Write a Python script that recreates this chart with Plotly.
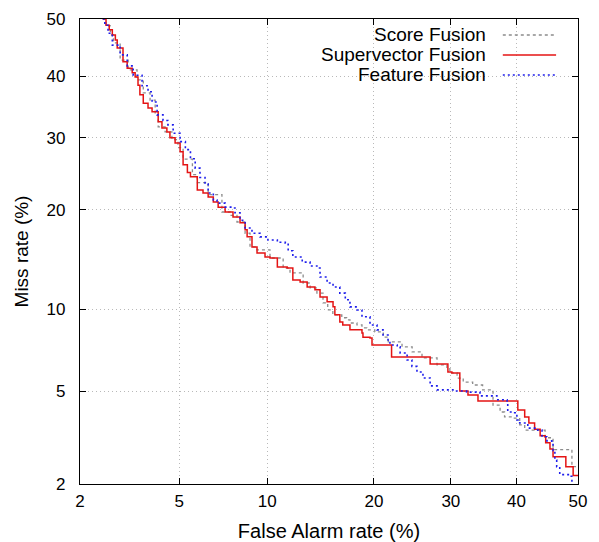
import plotly.graph_objects as go
from statistics import NormalDist

_nd = NormalDist()


def probit(pct):
    return _nd.inv_cdf(pct / 100.0)


# ---------------- data (percent) ----------------
tick_vals = [2, 5, 10, 20, 30, 40, 50]
tick_text = ["2", "5", "10", "20", "30", "40", "50"]

score_fa = [2.5, 2.58, 2.69, 2.77, 2.95, 3.18, 3.45, 3.65, 3.88, 4.06, 4.17, 4.43, 4.7, 4.95,
            5.17, 5.59, 5.82, 6.36, 7.1, 7.57, 7.98, 8.49, 8.81, 9.28, 10.2, 11.2,
            11.75, 12.85, 13.47, 14.08, 14.65, 15.1, 15.6, 16.5, 17.0, 17.35, 18.1,
            18.65, 19.2, 20.1, 21.1, 21.7, 23.4, 24.7, 26.0, 28.05, 29.44, 29.86,
            30.9, 31.8, 33.2, 34.7, 36.3, 37.4, 38.1, 39.4, 40.5, 41.3, 43.8, 44.6,
            45.7, 45.9, 48.7, 49.0, 50.0]
score_miss = [50, 48.8, 47.2, 45.8, 42.8, 41.1, 39.4, 37.2, 36.0, 33.6, 31.7, 30.9, 29.7, 28.5,
              26.8, 24.6, 23.5, 21.9, 19.7, 19.3, 18.5, 17.2, 15.7, 15.4, 14.56, 13.57,
              13.1, 12.18, 11.75, 11.3, 10.5, 9.94, 9.57, 9.35, 9.2, 8.97, 8.83,
              8.63, 8.49, 8.35, 8.0, 7.69, 7.38, 7.07, 6.72, 6.33, 6.2, 5.9,
              5.64, 5.44, 5.3, 5.07, 4.41, 4.13, 3.94, 3.9, 3.65, 3.47, 3.47, 3.22,
              3.22, 2.86, 2.86, 2.4, 2.4]

super_fa = [2.5, 2.58, 2.66, 2.74, 2.82, 2.87, 3.03, 3.15, 3.30, 3.39, 3.48, 3.54, 3.65, 3.81, 3.95,
            4.17, 4.31, 4.5, 4.62, 4.83, 5.04, 5.17, 5.36, 5.5, 5.82, 6.1, 6.36,
            6.63, 6.89, 7.28, 7.74, 8.17, 8.49, 8.62, 8.94, 9.28, 9.84, 10.2, 10.75,
            11.52, 11.98, 12.59, 13.2, 13.9, 14.37, 15.04, 15.62, 15.8, 16.3, 16.6,
            17.35, 18.65, 18.76, 19.55, 19.78, 21.9, 22.1, 27.1, 27.1, 29.44, 29.58,
            30.15, 31.3, 31.3, 32.5, 32.5, 34.0, 34.0, 40.05, 40.2, 41.3, 41.3, 41.97,
            41.97, 42.8, 42.9, 43.8, 43.8, 44.6, 44.7, 45.2, 45.4, 45.9, 45.9, 47.85,
            48.0, 49.2, 49.2, 50.0]
super_miss = [50, 48.9, 48.1, 47.2, 46.3, 44.9, 42.5, 41.4, 40.6, 39.9, 38.5, 36.9, 35.5, 34.7, 34.1,
              32.5, 31.5, 30.9, 30.0, 29.2, 27.9, 26.0, 24.9, 24.3, 22.5, 22.1, 21.6,
              20.95, 20.3, 19.7, 19.1, 18.4, 17.6, 16.8, 15.7, 15.06, 14.66, 14.56, 13.67,
              13.57, 12.45, 12.27, 11.83, 11.58, 10.98, 10.58, 10.18, 9.57, 9.04, 8.83,
              8.49, 8.28, 8.0, 7.94, 7.5, 7.5, 6.78, 6.78, 6.38, 6.38, 5.95,
              5.9, 5.9, 5.02, 5.02, 4.84, 4.84, 4.58, 4.58, 4.21, 4.17, 3.94, 3.94,
              3.72, 3.72, 3.5, 3.47, 3.28, 3.25, 3.06, 3.06, 2.88, 2.83, 2.66, 2.66,
              2.4, 2.4, 2.19, 2.19]

feat_fa = [2.5, 2.55, 2.63, 2.74, 2.95, 3.15, 3.33, 3.61, 3.81, 3.95, 4.13, 4.35, 4.54,
           4.75, 5.04, 5.27, 5.5, 5.72, 5.95, 6.2, 6.36, 6.63, 6.83, 7.28, 7.74,
           7.86, 8.17, 8.49, 8.94, 9.49, 10.05, 10.75, 11.37, 11.6, 11.98, 12.77,
           13.46, 14.08, 14.37, 15.04, 15.62, 16.3, 16.86, 17.35, 18.1, 18.65, 19.55,
           20.36, 21.07, 21.67, 21.9, 22.8, 23.16, 24.05, 24.67, 25.33, 26.13, 27.1,
           28.05, 30.3, 32.3, 34.3, 36.9, 38.5, 38.6, 39.7, 40.05, 40.5, 41.8, 43.4,
           44.1, 44.9, 45.7, 45.9, 46.2, 46.5, 47.0, 48.7, 49.0]
feat_miss = [50, 48.9, 47.5, 45.4, 43.7, 41.8, 40.2, 38.4, 37.4, 35.7, 33.6, 32.7, 32.0,
             30.7, 29.4, 28.2, 26.85, 25.5, 24.2, 23.3, 22.1, 21.2, 20.8, 20.3, 20.2,
             19.6, 18.7, 17.8, 17.2, 16.8, 16.45, 16.2, 16.1, 15.3, 14.66, 14.15,
             13.77, 13.57, 12.72, 12.18, 11.83, 11.3, 10.75, 10.18, 9.94, 9.42, 8.83,
             8.49, 8.14, 7.82, 7.5, 7.38, 7.01, 6.6, 6.25, 5.95, 5.64, 5.26,
             5.07, 5.02, 4.97, 4.8, 4.63, 4.53, 4.13, 4.1, 3.83, 3.72, 3.54, 3.47,
             3.25, 3.12, 3.06, 2.83, 2.57, 2.4, 2.21, 2.17, 2.0]

series_names = ["Score Fusion", "Supervector Fusion", "Feature Fusion"]

# ---------------- figure ----------------
FONT = "Liberation Sans, Arial, Helvetica, sans-serif"
styles = [
    dict(color="rgb(140,140,140)", width=1.3, dash="3px,3px"),
    dict(color="rgb(228,20,20)", width=1.5, dash="solid"),
    dict(color="rgb(30,30,235)", width=1.6, dash="2px,3px"),
]
data = [(score_fa, score_miss), (super_fa, super_miss), (feat_fa, feat_miss)]

fig = go.Figure()
for name, (fa, miss), st in zip(series_names, data, styles):
    fig.add_trace(go.Scatter(
        x=[probit(v) for v in fa],
        y=[probit(v) for v in miss],
        mode="lines",
        name=name,
        line=dict(color=st["color"], width=st["width"], dash=st["dash"], shape="hv"),
        showlegend=False,
        hoverinfo="skip",
    ))

axis_common = dict(
    range=[probit(tick_vals[0]), probit(tick_vals[-1])],
    tickmode="array",
    tickvals=[probit(v) for v in tick_vals],
    ticktext=tick_text,
    showgrid=True,
    gridcolor="rgb(185,185,185)",
    griddash="1px,3px",
    gridwidth=1,
    zeroline=False,
    showline=True,
    linecolor="black",
    linewidth=1.2,
    mirror="ticks",
    ticks="inside",
    ticklen=6,
    tickcolor="black",
    tickwidth=1.2,
    automargin=False,
    tickfont=dict(family=FONT, size=17, color="black"),
)

# the page body adds an 8px offset, so the figure is 8px smaller and margins shifted
fig.update_layout(
    width=591,
    height=534,
    margin=dict(l=72, r=21, t=11, b=58),
    paper_bgcolor="white",
    plot_bgcolor="white",
    font=dict(family=FONT, size=17, color="black"),
    xaxis=dict(axis_common, title=dict(text="False Alarm rate (%)", font=dict(size=20), standoff=14),
               ticklabelstandoff=1),
    yaxis=dict(axis_common, title=dict(text="Miss rate (%)", font=dict(size=19), standoff=12),
               ticklabelstandoff=10),
    showlegend=False,
)

# manual gnuplot-style key: text right-aligned, sample line to its right
key_y = [0.9656, 0.9226, 0.8796]
for name, st, yy in zip(series_names, styles, key_y):
    fig.add_annotation(x=0.819, y=yy, xref="paper", yref="paper", text=name,
                       showarrow=False, xanchor="right", yanchor="middle",
                       font=dict(family=FONT, size=19, color="black"))
    fig.add_shape(type="line", xref="paper", yref="paper", x0=0.849, x1=0.956,
                  y0=yy, y1=yy,
                  line=dict(color=st["color"], width=st["width"], dash=st["dash"]))

fig.write_html("out.html")
